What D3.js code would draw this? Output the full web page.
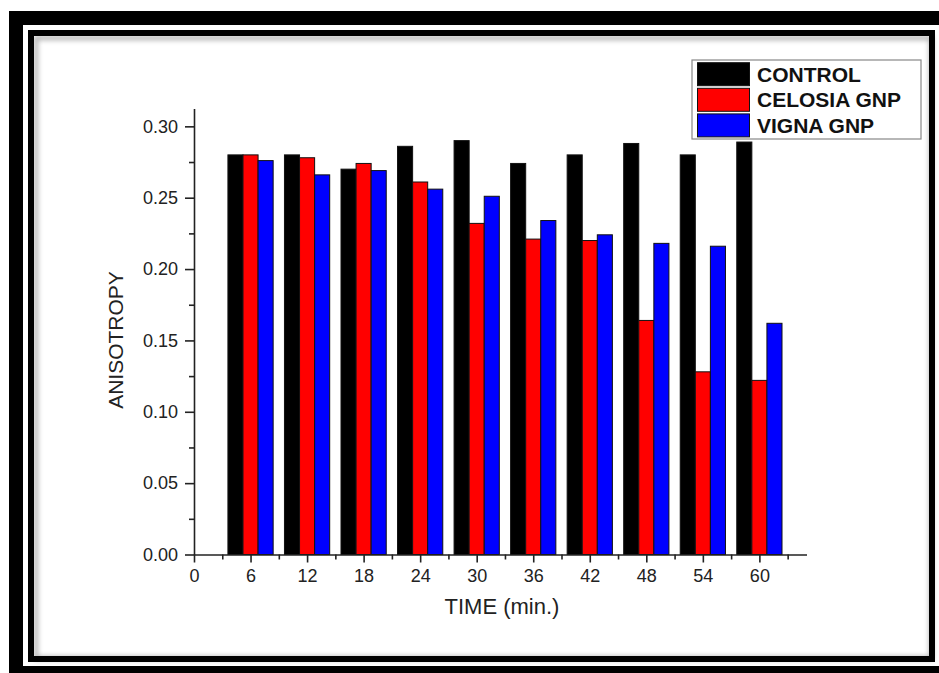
<!DOCTYPE html>
<html lang="en">
<head>
    <meta charset="UTF-8">
    <title>Anisotropy vs time</title>
    <script src="https://cdnjs.cloudflare.com/ajax/libs/d3/7.8.5/d3.min.js"></script>
    <style>
        body {
            margin: 0;
            background: #fff;
            font-family: "Liberation Sans", Arial, sans-serif;
        }
        svg { display: block; }
        .axis path, .axis line { stroke: #222; stroke-width: 1.6px; }
        .axis text { font-family: "Liberation Sans", Arial, sans-serif; font-size: 18px; fill: #222; }
    </style>
</head>
<body>
<div id="chart"></div>
<script>
    // data
    const times = [6, 12, 18, 24, 30, 36, 42, 48, 54, 60];
    const seriesNames = ["CONTROL", "CELOSIA GNP", "VIGNA GNP"];
    const seriesColors = ["#000000", "#ff0000", "#0000ff"];
    const control = [0.280, 0.280, 0.270, 0.286, 0.290, 0.274, 0.280, 0.288, 0.280, 0.289];
    const celosia = [0.280, 0.278, 0.274, 0.261, 0.232, 0.221, 0.220, 0.164, 0.128, 0.122];
    const vigna   = [0.276, 0.266, 0.269, 0.256, 0.251, 0.234, 0.224, 0.218, 0.216, 0.162];
    const yTicks = [0, 0.05, 0.10, 0.15, 0.20, 0.25, 0.30];
    const xTicks = [0, 6, 12, 18, 24, 30, 36, 42, 48, 54, 60];

    const series = [control, celosia, vigna];

    const W = 939, H = 673;
    const svg = d3.select("#chart").append("svg")
        .attr("width", W).attr("height", H);

    // double frame around the picture
    const defs = svg.append("defs");
    defs.append("filter").attr("id", "soft")
        .append("feGaussianBlur").attr("stdDeviation", 2.5);

    svg.append("rect").attr("x", 9).attr("y", 11).attr("width", 960).attr("height", 700).attr("fill", "#000");
    svg.append("rect").attr("x", 23).attr("y", 25).attr("width", 940).attr("height", 641).attr("fill", "#fff");
    svg.append("rect").attr("x", 36).attr("y", 38).attr("width", 895).attr("height", 620)
        .attr("fill", "none").attr("stroke", "#aaa").attr("stroke-width", 4).attr("filter", "url(#soft)");
    svg.append("rect").attr("x", 31).attr("y", 33).attr("width", 901).attr("height", 626)
        .attr("fill", "none").attr("stroke", "#000").attr("stroke-width", 6);

    // scales
    const x = d3.scaleLinear().domain([0, 65]).range([194, 806.5]);
    const y = d3.scaleLinear().domain([0, 0.3125]).range([554.5, 108.5]);
    const barW = 1.6; // in minutes

    // bars
    series.forEach((vals, s) => {
        svg.append("g")
            .selectAll("rect")
            .data(vals)
            .join("rect")
            .attr("x", (d, i) => x(times[i] + (s - 1.5) * barW))
            .attr("width", x(barW) - x(0))
            .attr("y", d => y(d))
            .attr("height", d => y(0) - y(d))
            .attr("fill", seriesColors[s])
            .attr("stroke", "#111")
            .attr("stroke-width", 1);
    });

    // y axis: major + minor ticks
    const yMinor = d3.range(0.025, 0.3, 0.05);
    svg.append("g").attr("class", "axis")
        .attr("transform", `translate(${x(0)},0)`)
        .call(d3.axisLeft(y).tickValues(yMinor).tickSize(5).tickFormat(""))
        .call(g => g.select(".domain").remove());
    svg.append("g").attr("class", "axis")
        .attr("transform", `translate(${x(0)},0)`)
        .call(d3.axisLeft(y).tickValues(yTicks).tickSize(9).tickSizeOuter(0).tickPadding(7).tickFormat(d3.format(".2f")));

    // x axis: major + minor ticks
    const xMinor = d3.range(3, 64, 6);
    svg.append("g").attr("class", "axis")
        .attr("transform", `translate(0,${y(0)})`)
        .call(d3.axisBottom(x).tickValues(xMinor).tickSize(5).tickFormat(""))
        .call(g => g.select(".domain").remove());
    svg.append("g").attr("class", "axis")
        .attr("transform", `translate(0,${y(0)})`)
        .call(d3.axisBottom(x).tickValues(xTicks).tickSize(8).tickSizeOuter(0).tickPadding(7).tickFormat(d3.format("d")));

    // axis titles
    svg.append("text")
        .attr("x", 502).attr("y", 614)
        .attr("text-anchor", "middle")
        .attr("font-size", 22).attr("fill", "#222")
        .text("TIME (min.)");

    svg.append("text")
        .attr("transform", "translate(123,340) rotate(-90)")
        .attr("text-anchor", "middle")
        .attr("font-size", 21).attr("fill", "#222")
        .text("ANISOTROPY");

    // legend
    const legend = svg.append("g");
    legend.append("rect")
        .attr("x", 692).attr("y", 60).attr("width", 229).attr("height", 79)
        .attr("fill", "#fff").attr("stroke", "#888").attr("stroke-width", 1.2);
    seriesNames.forEach((name, i) => {
        const top = 62.7 + i * 25.6;
        legend.append("rect")
            .attr("x", 697.5).attr("y", top).attr("width", 52).attr("height", 23)
            .attr("fill", seriesColors[i]).attr("stroke", "#111").attr("stroke-width", 1);
        legend.append("text")
            .attr("x", 757).attr("y", top + 19)
            .attr("font-size", 21).attr("font-weight", "bold").attr("fill", "#111")
            .text(name);
    });
</script>
</body>
</html>
